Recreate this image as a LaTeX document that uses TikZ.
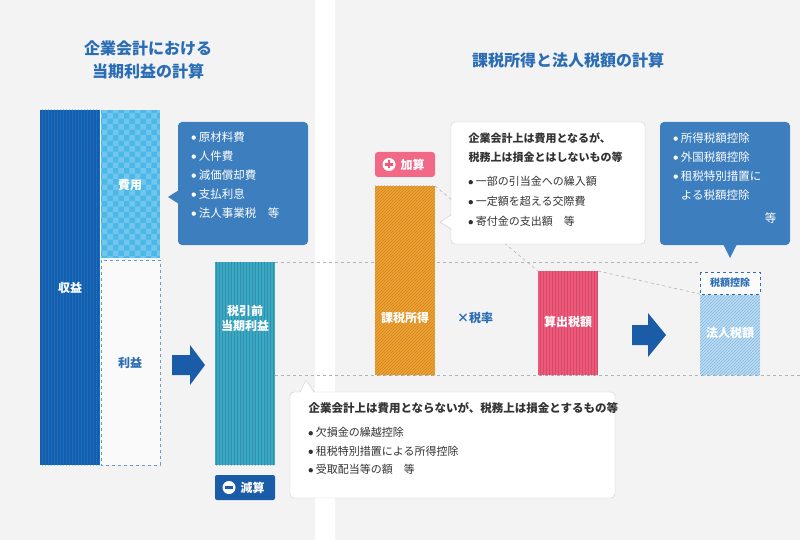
\documentclass[tikz,border=0pt]{standalone}
\usepackage{fontspec}
\setmainfont{Noto Sans CJK JP}
\usetikzlibrary{patterns}
\definecolor{bg}{HTML}{F3F3F3}
\definecolor{dblue}{HTML}{1A5CA8}
\definecolor{tblue}{HTML}{2A6DB5}
\definecolor{cblue}{HTML}{3D7EBF}
\definecolor{lblue}{HTML}{4DB8E8}
\definecolor{teal}{HTML}{3AA9C6}
\definecolor{orng}{HTML}{F0A030}
\definecolor{pink}{HTML}{F0587A}
\definecolor{hblue}{HTML}{B9DDF3}
\newcommand{\bul}{\tikz[baseline=-3.6pt]\fill (0,0) circle (2.2pt);\hspace{3pt}}
\tikzset{
 lbl/.style={font=\fontsize{12}{15}\selectfont\bfseries,text=white,align=center},
 bub/.style={rounded corners=4pt},
 gdash/.style={draw=gray!60,dashed,line width=0.6pt},
 btxt/.style={font=\fontsize{11.5}{19}\selectfont,text=white,align=left,anchor=north west},
 wtxt/.style={font=\fontsize{11.5}{19}\selectfont,text=black!80,align=left,anchor=north west},
 pat/.style={pattern=#1,opacity=0.3}
}
\begin{document}
\begin{tikzpicture}[x=1pt,y=-1pt]
\useasboundingbox (0,0) rectangle (800,540);
\fill[bg] (0,0) rectangle (315,540);
\fill[white] (315,0) rectangle (335,540);
\fill[bg] (335,0) rectangle (800,540);
% titles
\node[font=\fontsize{16}{23}\selectfont\bfseries,text=tblue,align=center] (t1) at (148,60) {企業会計における\\当期利益の計算};
\node[font=\fontsize{16}{23}\selectfont\bfseries,text=tblue] (t2) at (568,60) {課税所得と法人税額の計算};
% dashed guides
\draw[gdash] (275,262) -- (700,262);
\draw[gdash] (215,375) -- (800,375);
\draw[gdash] (435,186) -- (538,271);
\draw[gdash] (598,271) -- (700,294);
% left bars
\fill[dblue] (40,110) rectangle (100,465);
\fill[pattern=vertical lines,pattern color=blue!40!cyan,opacity=0.35] (40,110) rectangle (100,465);
\node[lbl] (shueki) at (70,288) {収益};
\fill[lblue] (101,110) rectangle (160,258);
\fill[pattern=checkerboard,pattern color=white,opacity=0.2] (101,110) rectangle (160,258);
\node[lbl] (hiyo) at (130,185) {費用};
\draw[dashed,draw=tblue!70,fill=white!60!bg] (101,260) rectangle (160,465);
\node[lbl,text=tblue] (rieki) at (130,363) {利益};
% callout 1
\fill[cblue,bub] (178,122) rectangle (308,245);
\fill[cblue] (179,190) -- (168,197) -- (179,204) -- cycle;
\node[btxt] (c1) at (188,128) {\bul 原材料費\\\bul 人件費\\\bul 減価償却費\\\bul 支払利息\\\bul 法人事業税\quad 等};
% arrow 1
\fill[dblue] (172,355) -- (190,355) -- (190,345) -- (205,365) -- (190,385) -- (190,375) -- (172,375) -- cycle;
% pretax bar
\fill[teal] (215,262) rectangle (275,465);
\fill[pattern=vertical lines,pattern color=teal!50!black,opacity=0.3] (215,262) rectangle (275,465);
\node[lbl] (pre) at (245,318) {税引前\\当期利益};
% genzan badge
\fill[dblue,rounded corners=2pt] (215,475) rectangle (275,500);
\fill[white] (229,487.5) circle (6.5);
\fill[dblue] (225,486.3) rectangle (233,488.7);
\node[lbl,anchor=west] (gen) at (237,487.5) {減算};
% callout 2
\draw[gray!40,fill=white,bub] (290,392) rectangle (615,498);
\fill[white] (300,393) -- (306,380) -- (314,393) -- cycle;
\draw[gray!40] (300,392) -- (306,380) -- (314,392);
\node[wtxt] (c2t) at (305,399) {\bfseries 企業会計上は費用とならないが、税務上は損金とするもの等};
\node[wtxt,font=\fontsize{11}{18.5}\selectfont] (c2) at (305,424) {\bul 欠損金の繰越控除\\\bul 租税特別措置による所得控除\\\bul 受取配当等の額\quad 等};
% kasan badge
\fill[pink!90!white,rounded corners=3pt] (375,152) rectangle (435,177);
\fill[white] (389,164.5) circle (6.5);
\fill[pink] (385,163.3) rectangle (393,165.7);
\fill[pink] (387.8,160.5) rectangle (390.2,168.5);
\node[lbl,anchor=west] (kas) at (397,164.5) {加算};
% kazei bar
\fill[orng] (375,186) rectangle (435,375);
\fill[pattern=north east lines,pattern color=orng!50!black,opacity=0.3] (375,186) rectangle (435,375);
\node[lbl] (kazei) at (405,318) {課税所得};
\node[font=\fontsize{12}{15}\selectfont\bfseries,text=tblue] (rate) at (475,318) {×税率};
% callout 3
\draw[gray!40,fill=white,bub] (451,122) rectangle (645,244);
\fill[white] (452,215) -- (440,222) -- (452,229) -- cycle;
\draw[gray!40] (451,215) -- (440,222) -- (451,229);
\node[wtxt,font=\fontsize{11}{19}\selectfont\bfseries] (c3t) at (465,129) {企業会計上は費用となるが、\\税務上は損金とはしないもの等};
\node[wtxt,font=\fontsize{11}{20}\selectfont] (c3) at (465,173) {\bul 一部の引当金への繰入額\\\bul 一定額を超える交際費\\\bul 寄付金の支出額\quad 等};
% sanshutsu bar
\fill[pink] (538,271) rectangle (598,375);
\fill[pattern=vertical lines,pattern color=pink!50!black,opacity=0.25] (538,271) rectangle (598,375);
\node[lbl] (san) at (568,322) {算出税額};
% arrow 2
\fill[dblue] (632,325) -- (648,325) -- (648,313) -- (666,335) -- (648,357) -- (648,345) -- (632,345) -- cycle;
% zeigaku koujo
\draw[dashed,draw=tblue,fill=white!70!bg] (700,272) rectangle (760,294);
\node[font=\fontsize{10}{12}\selectfont\bfseries,text=tblue] (kj) at (730,283) {税額控除};
\fill[hblue] (700,295) rectangle (760,375);
\fill[pattern=north east lines,pattern color=cblue,opacity=0.4] (700,295) rectangle (760,375);
\node[lbl] (hojin) at (730,333) {法人税額};
% callout 4
\fill[cblue,bub] (660,122) rectangle (790,245);
\fill[cblue] (723,244) -- (730,258) -- (737,244) -- cycle;
\node[btxt,font=\fontsize{11.5}{19}\selectfont] (c4) at (670,129) {\bul 所得税額控除\\\bul 外国税額控除\\\bul 租税特別措置に\\\phantom{\bul}よる税額控除};
\node[btxt,anchor=north east] (c4e) at (780,209) {等};
\end{tikzpicture}
\end{document}
